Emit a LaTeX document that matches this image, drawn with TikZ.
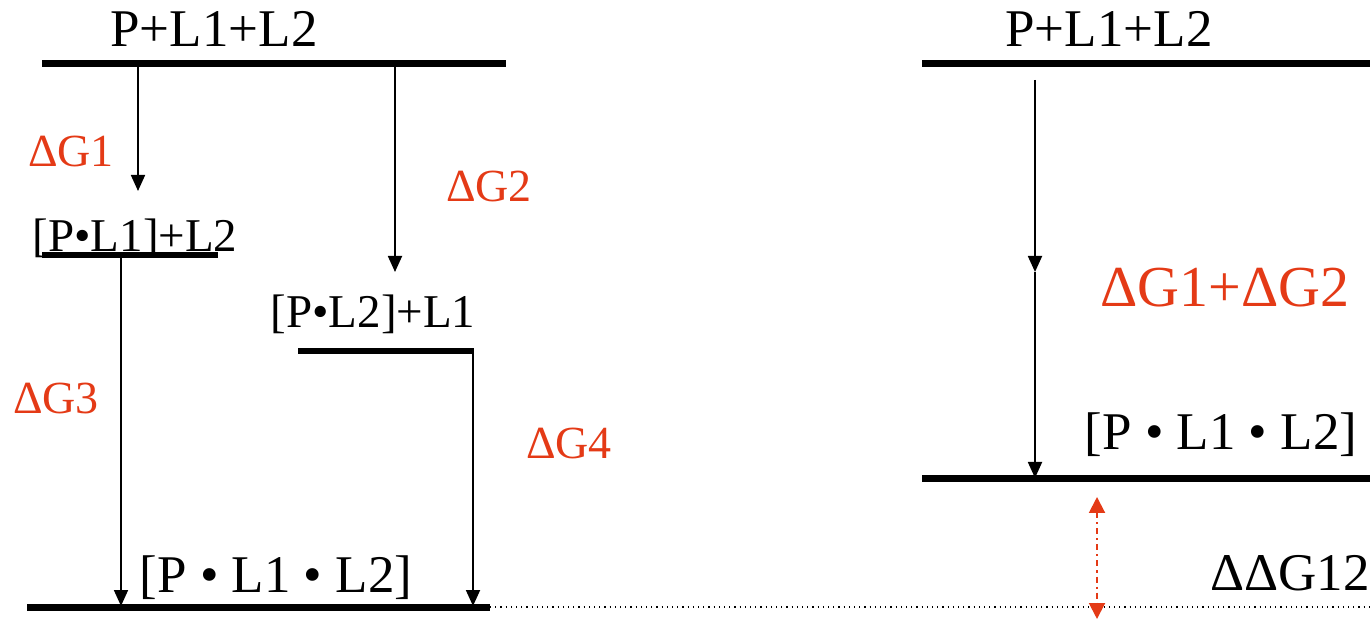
\documentclass[tikz,border=0pt]{standalone}
\usepackage{fontspec}
\setmainfont{Liberation Serif}
\usetikzlibrary{arrows.meta}
\definecolor{dgorange}{RGB}{228,58,22}
\tikzset{
  level/.style={line width=3.5pt},
  sublevel/.style={line width=2.6pt},
  flow/.style={line width=0.9pt,-{Triangle[width=7pt,length=8pt]}},
  lbl/.style={anchor=base,inner sep=0pt,font=\fontsize{26.5}{30}\selectfont},
  lblm/.style={anchor=base,inner sep=0pt,font=\fontsize{23.5}{28}\selectfont},
  dg/.style={anchor=base,inner sep=0pt,text=dgorange,font=\fontsize{23}{28}\selectfont},
}
\begin{document}
\begin{tikzpicture}[x=0.5pt,y=-0.5pt]
\useasboundingbox (0,0) rectangle (1370,619);
% levels
\coordinate (t1a) at (42,64);   \coordinate (t1b) at (506,64);
\coordinate (l1a) at (42,255);  \coordinate (l1b) at (218,255);
\coordinate (l2a) at (298,351); \coordinate (l2b) at (474,351);
\coordinate (b1a) at (27,607);  \coordinate (b1b) at (490,607);
\coordinate (t2a) at (922,64);  \coordinate (t2b) at (1370,64);
\coordinate (b2a) at (922,479); \coordinate (b2b) at (1370,479);
\coordinate (dotend) at (1370,607);
\draw[level] (t1a) -- (t1b);
\draw[sublevel] (l1a) -- (l1b);
\draw[sublevel] (l2a) -- (l2b);
\draw[level] (b1a) -- (b1b);
\draw[level] (t2a) -- (t2b);
\draw[level] (b2a) -- (b2b);
\draw[line width=0.6pt,dotted] (b1b) -- (dotend);
% arrows
\coordinate (a1s) at (138,64);  \coordinate (a1e) at (138,191);
\coordinate (a2s) at (395,64);  \coordinate (a2e) at (395,272);
\coordinate (a3s) at (121,255); \coordinate (a3e) at (121,606);
\coordinate (a4s) at (473,351); \coordinate (a4e) at (473,606);
\coordinate (a5s) at (1035,80); \coordinate (a5m) at (1035,272); \coordinate (a5e) at (1035,478);
\coordinate (ddt) at (1097,497); \coordinate (ddb) at (1097,619);
\draw[flow] (a1s) -- (a1e);
\draw[flow] (a2s) -- (a2e);
\draw[flow] (a3s) -- (a3e);
\draw[flow] (a4s) -- (a4e);
\draw[flow] (a5s) -- (a5m);
\draw[flow] (a5m) -- (a5e);
\draw[line width=1pt,dgorange,dash dot,{Triangle[width=8pt,length=8pt]}-{Triangle[width=8pt,length=8pt]}] (ddt) -- (ddb);
% labels
\node[lbl] (top1) at (214,47) {P+L1+L2};
\node[lbl] (top2) at (1109,47) {P+L1+L2};
\node[lblm] (pl1) at (135,252) {[P•L1]+L2};
\node[lblm] (pl2) at (373,328) {[P•L2]+L1};
\node[lbl] (bot1) at (276,592) {[P • L1 • L2]};
\node[lbl] (bot2) at (1221,450) {[P • L1 • L2]};
\node[lbl] (ddg) at (1290,590) {ΔΔG12};
\node[dg] (g1) at (71,167) {ΔG1};
\node[dg] (g2) at (489,202) {ΔG2};
\node[dg] (g3) at (56,414) {ΔG3};
\node[dg] (g4) at (569,459) {ΔG4};
\node[dg,font=\fontsize{29}{34}\selectfont] (g12) at (1225,307) {ΔG1+ΔG2};
\end{tikzpicture}
\end{document}
